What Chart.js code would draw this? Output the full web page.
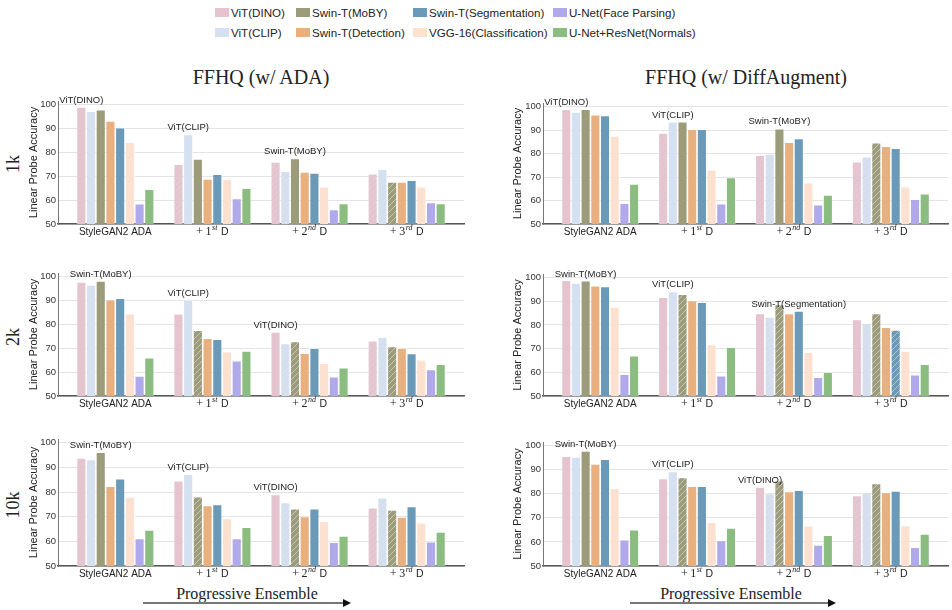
<!DOCTYPE html>
<html>
<head>
<meta charset="utf-8">
<script src="https://cdn.jsdelivr.net/npm/chart.js@4.4.1/dist/chart.umd.min.js"></script>
<style>
  body { margin: 0; background: #fff; }
  #page { position: relative; width: 952px; height: 610px; overflow: hidden; background: #fff; color: #222; }
  canvas { position: absolute; }
  .txt { position: absolute; white-space: nowrap; }
  .serif { font-family: "Liberation Serif", "Times New Roman", serif; }
  .sans { font-family: "Liberation Sans", Arial, sans-serif; }
  .col-title { font-size: 20px; width: 400px; text-align: center; }
  .row-label { font-size: 18px; transform: translate(-50%, -50%) rotate(-90deg); }
  .leg { font-size: 11.6px; line-height: 14px; }
  .leg i { display: inline-block; width: 14px; height: 9px; margin-right: 2px; vertical-align: 0px; }
  .arrow-line { position: absolute; height: 2px; background: #777; }
  .arrow-head { position: absolute; width: 0; height: 0; border-top: 4px solid transparent; border-bottom: 4px solid transparent; border-left: 8px solid #111; }
</style>
</head>
<body>
<div id="page">
  <div class="txt serif col-title" style="left:61px; top:66px;">FFHQ (w/ ADA)</div>
  <div class="txt serif col-title" style="left:546px; top:66px;">FFHQ (w/ DiffAugment)</div>
  <div class="txt serif row-label" style="left:13px; top:164px;">1k</div>
  <div class="txt serif row-label" style="left:13px; top:337px;">2k</div>
  <div class="txt serif row-label" style="left:13px; top:505px;">10k</div>
  <div class="txt serif" style="left:147px; top:585px; font-size:16px; width:200px; text-align:center;">Progressive Ensemble</div>
  <div class="txt serif" style="left:631px; top:585px; font-size:16px; width:200px; text-align:center;">Progressive Ensemble</div>
  <div class="arrow-line" style="left:143px; top:602px; width:201px;"></div>
  <div class="arrow-head" style="left:343px; top:599px;"></div>
  <div class="arrow-line" style="left:630px; top:602px; width:199px;"></div>
  <div class="arrow-head" style="left:828px; top:599px;"></div>
  <div id="legend"></div>
</div>

<script>
// Categories and models
const categories = ['StyleGAN2 ADA', '+ 1st D', '+ 2nd D', '+ 3rd D'];
const models = ['ViT(DINO)', 'ViT(CLIP)', 'Swin-T(MoBY)', 'Swin-T(Detection)',
                'Swin-T(Segmentation)', 'VGG-16(Classification)', 'U-Net(Face Parsing)', 'U-Net+ResNet(Normals)'];
const colors = ['rgb(229,196,207)', 'rgb(213,225,240)', 'rgb(156,155,122)', 'rgb(232,176,127)',
                'rgb(106,154,184)', 'rgb(252,224,208)', 'rgb(176,170,234)', 'rgb(139,189,128)'];
const yTicks = [50, 60, 70, 80, 90, 100];

// accuracy per group (rows) and model (columns)
const ada1k = [
  [99.0, 97.2, 97.9, 93.1, 90.3, 84.3, 58.5, 64.6],
  [75.0, 87.5, 77.2, 68.9, 70.8, 68.9, 60.7, 65.0],
  [76.0, 72.1, 77.4, 71.8, 71.4, 65.6, 56.1, 58.6],
  [71.1, 72.9, 67.6, 67.6, 68.3, 65.6, 59.0, 58.6]
];
const diff1k = [
  [98.9, 97.7, 98.9, 96.5, 96.2, 87.5, 58.9, 67.0],
  [88.8, 93.5, 93.5, 90.4, 90.4, 73.1, 58.6, 69.8],
  [79.3, 79.8, 90.6, 84.8, 86.4, 67.6, 58.2, 62.4],
  [76.5, 78.6, 84.6, 83.1, 82.3, 65.9, 60.6, 62.9]
];
const ada2k = [
  [97.8, 96.5, 98.2, 90.3, 91.0, 84.5, 58.4, 66.0],
  [84.5, 90.2, 77.5, 74.2, 73.8, 68.6, 64.8, 68.9],
  [76.8, 72.0, 72.8, 67.9, 70.0, 63.7, 58.1, 61.9],
  [73.2, 74.6, 70.7, 70.0, 67.8, 65.1, 61.1, 63.3]
];
const diff2k = [
  [98.9, 97.7, 98.7, 96.6, 96.2, 87.6, 59.2, 67.0],
  [91.7, 94.1, 93.0, 90.3, 89.6, 71.8, 58.6, 70.6],
  [84.8, 83.4, 88.6, 84.8, 85.9, 68.5, 57.9, 60.0],
  [82.3, 80.7, 84.8, 79.0, 77.9, 68.9, 59.0, 63.4]
];
const ada10k = [
  [93.8, 93.2, 96.1, 82.4, 85.4, 78.0, 61.2, 64.6],
  [84.6, 87.2, 78.1, 74.6, 75.0, 69.3, 61.2, 65.7],
  [79.0, 75.8, 73.2, 70.1, 73.2, 68.2, 59.7, 62.2],
  [73.6, 77.7, 72.7, 69.9, 74.1, 67.6, 59.9, 63.8]
];
const diff10k = [
  [95.6, 95.3, 97.8, 92.4, 94.4, 82.2, 60.9, 65.1],
  [86.4, 89.3, 86.8, 83.1, 83.1, 68.2, 60.6, 65.8],
  [82.8, 80.1, 85.4, 81.0, 81.5, 66.7, 58.7, 62.8],
  [79.3, 80.5, 84.3, 80.5, 81.2, 66.8, 57.8, 63.3]
];

// models already in the ensemble (hatched) per group
const used1k = [[], [0], [0, 1], [0, 1, 2]];
const usedMoby = [[], [2], [1, 2], [0, 1, 2]];
const usedDiff2k = [[], [2], [1, 2], [1, 2, 4]];
// model picked (labelled) per group
const picked1k = [0, 1, 2];
const pickedMoby = [2, 1, 0];
const pickedDiff2k = [2, 1, 4];

// legend, column-major like the figure
const legendCols = [215, 296, 413, 553];
const legendRows = [6, 26];
let legendHtml = '';
models.forEach((name, i) => {
  const x = legendCols[Math.floor(i / 2)], y = legendRows[i % 2];
  legendHtml += '<div class="txt sans leg" style="left:' + x + 'px;top:' + y + 'px;"><i style="background:' +
    colors[i] + '"></i>' + name + '</div>';
});
document.getElementById('legend').innerHTML = legendHtml;

function hatch(color) {
  const c = document.createElement('canvas');
  c.width = 6; c.height = 6;
  const g = c.getContext('2d');
  g.fillStyle = color;
  g.fillRect(0, 0, 6, 6);
  g.strokeStyle = 'rgba(215,215,220,0.9)';
  g.lineWidth = 0.8;
  g.beginPath();
  g.moveTo(0, 6); g.lineTo(6, 0);
  g.moveTo(-1, 1); g.lineTo(1, -1);
  g.moveTo(5, 7); g.lineTo(7, 5);
  g.stroke();
  return g.createPattern(c, 'repeat');
}
const patterns = colors.map(hatch);

// annotations and mixed-font x labels
const panelText = {
  id: 'panelText',
  afterDatasetsDraw(chart, args, opts) {
    const ctx = chart.ctx;
    const area = chart.chartArea;
    ctx.save();
    ctx.fillStyle = '#222';
    ctx.font = '9.5px "Liberation Sans"';
    ctx.textAlign = 'center';
    ctx.textBaseline = 'bottom';
    opts.picked.forEach((m, g) => {
      const bar = chart.getDatasetMeta(m).data[g];
      ctx.fillText(models[m], bar.x, bar.y - 2);
    });
    ctx.textBaseline = 'alphabetic';
    const xs = chart.scales.x;
    categories.forEach((label, g) => {
      const x = xs.getPixelForValue(g);
      const y = area.bottom + 11;
      const m = label.match(/^\+ (\d)(\w+) D$/);
      if (!m) {
        ctx.textAlign = 'center';
        ctx.font = '10px "Liberation Sans"';
        ctx.fillText(label, x, y);
        return;
      }
      const parts = [
        { t: '+', f: '12px "Liberation Serif"', dy: 0, gap: 2.5 },
        { t: m[1], f: '12px "Liberation Serif"', dy: 0, gap: 0.5 },
        { t: m[2], f: 'italic 8px "Liberation Serif"', dy: -5, gap: 3.5 },
        { t: 'D', f: '10.5px "Liberation Sans"', dy: 0, gap: 0 }
      ];
      let total = 0;
      parts.forEach(p => { ctx.font = p.f; p.w = ctx.measureText(p.t).width; total += p.w + p.gap; });
      let cx = x - total / 2;
      ctx.textAlign = 'left';
      parts.forEach(p => { ctx.font = p.f; ctx.fillText(p.t, cx, y + p.dy); cx += p.w + p.gap; });
    });
    ctx.restore();
  }
};

Chart.defaults.font.family = '"Liberation Sans", Arial, sans-serif';

const colGeom = [
  { left: 0, width: 475, padLeft: 20, padRight: 11, titlePad: 7 },
  { left: 480, width: 472, padLeft: 25, padRight: 4, titlePad: 6.5 }
];
const panels = [
  { values: ada1k, used: used1k, picked: picked1k, col: 0, top: 100.7, bottom: 224.3 },
  { values: diff1k, used: used1k, picked: picked1k, col: 1, top: 103.2, bottom: 224.3 },
  { values: ada2k, used: usedMoby, picked: pickedMoby, col: 0, top: 273.1, bottom: 395.7 },
  { values: diff2k, used: usedDiff2k, picked: pickedDiff2k, col: 1, top: 273.7, bottom: 395.7 },
  { values: ada10k, used: usedMoby, picked: pickedMoby, col: 0, top: 439, bottom: 566 },
  { values: diff10k, used: usedMoby, picked: pickedMoby, col: 1, top: 442.1, bottom: 565.7 }
];

const page = document.getElementById('page');
panels.forEach(p => {
  const cg = colGeom[p.col];
  const top = Math.round(p.top), bottom = Math.round(p.bottom);
  const canvas = document.createElement('canvas');
  canvas.width = cg.width;
  canvas.height = bottom - top + 42;
  canvas.style.left = cg.left + 'px';
  canvas.style.top = (top - 22) + 'px';
  page.appendChild(canvas);

  const datasets = models.map((name, m) => ({
    label: name,
    data: p.values.map((row, g) => ({ x: g, y: row[m] })),
    backgroundColor: ctx => p.used[ctx.dataIndex].includes(m) ? patterns[m] : colors[m],
    borderColor: 'rgba(255,255,255,0.5)',
    borderWidth: 0.8,
    borderSkipped: 'bottom'
  }));

  new Chart(canvas.getContext('2d'), {
    type: 'bar',
    data: { datasets: datasets },
    plugins: [panelText],
    options: {
      responsive: false,
      animation: false,
      categoryPercentage: 0.8,
      barPercentage: 1.0,
      layout: { padding: { left: cg.padLeft, right: cg.padRight, top: 22, bottom: 0 } },
      plugins: {
        legend: { display: false },
        tooltip: { enabled: false },
        panelText: { picked: p.picked }
      },
      scales: {
        x: {
          type: 'linear',
          offset: false,
          min: -0.59,
          max: 3.59,
          afterBuildTicks: s => { s.ticks = categories.map((c, i) => ({ value: i })); },
          grid: { display: false, offset: false },
          border: { display: true, color: '#555', width: 1.5 },
          ticks: { display: false },
          afterFit: s => { s.height = 20; }
        },
        y: {
          min: 50,
          max: 101.5,
          afterBuildTicks: s => { s.ticks = yTicks.map(v => ({ value: v })); },
          grid: { color: '#e4e4e4', lineWidth: 1, drawTicks: false },
          border: { display: true, color: '#777', width: 1 },
          ticks: { padding: 2, color: '#333', font: { size: 9.5 } },
          title: {
            display: true,
            text: 'Linear Probe Accuracy',
            color: '#222',
            font: { size: 11 },
            padding: { top: cg.titlePad, bottom: 0 }
          },
          afterFit: s => { s.width = 38; }
        }
      }
    }
  });
});
</script>
</body>
</html>
